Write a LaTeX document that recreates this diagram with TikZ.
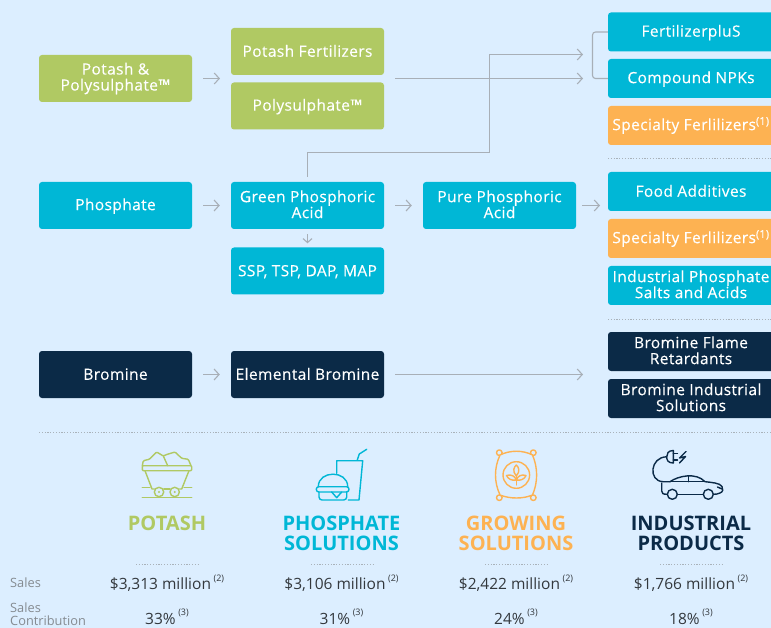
\documentclass[tikz,border=0pt]{standalone}
\usepackage{fontspec}
\setmainfont{Open Sans}
\newfontfamily\boxfont{Open Sans}[LetterSpace=2.5,FakeBold=0.25]
\usetikzlibrary{arrows.meta}
\definecolor{bgblue}{HTML}{DCEEFF}
\definecolor{potashgreen}{HTML}{B0C963}
\definecolor{phosteal}{HTML}{00B7D6}
\definecolor{groworange}{HTML}{FDB252}
\definecolor{indnavy}{HTML}{0B2A47}
\definecolor{flowgrey}{HTML}{A8AFB7}
\definecolor{dotgrey}{HTML}{A9B2BA}
\definecolor{valuegrey}{HTML}{33383D}
\definecolor{labelgrey}{HTML}{858B91}
\newcommand{\boxstrut}{\rule[-2.5pt]{0pt}{15.5pt}}
\tikzset{
    box/.style={rounded corners=3pt,text=white,align=center,inner sep=0pt,
      minimum height=47pt,minimum width=153pt,
      font=\boxfont\fontsize{15.5}{16}\selectfont,
      execute at begin node=\boxstrut,execute at end node=\boxstrut},
    sidebox/.style={box,minimum height=39pt,minimum width=166pt},
    flow/.style={flowgrey,line width=1.1pt,-{Straight Barb[length=5pt,width=11pt]}},
    plainflow/.style={flowgrey,line width=1.1pt},
    sepline/.style={dotgrey,line width=0.9pt,dash pattern=on 1.2pt off 1.6pt},
    title/.style={font=\fontsize{20}{20}\bfseries\selectfont,align=center,inner sep=0pt},
    value/.style={text=valuegrey,font=\fontsize{15.5}{16}\selectfont,inner sep=0pt},
    rowlabel/.style={text=labelgrey,anchor=west,align=left,inner sep=0pt,
      font=\fontsize{12.8}{13}\selectfont},
    icon/.style={line width=1.4pt,line join=round,line cap=round}
}
\newcommand{\noteref}[1]{\,\raisebox{0.55em}{\fontsize{9}{9}\selectfont(#1)}}
\begin{document}
\begin{tikzpicture}[x=1pt,y=-1pt]
    \useasboundingbox (0,0) rectangle (771,628);
    \clip (0,0) rectangle (771,628);
    \fill[bgblue] (0,0) rectangle (771,628);

    \node[box,fill=potashgreen] (potash) at (115.5,78.5) {Potash \&\\Polysulphate™};
    \node[box,fill=potashgreen] (potashfert) at (307.5,51.5) {Potash Fertilizers};
    \node[box,fill=potashgreen] (polysulphate) at (307.5,106) {Polysulphate™};

    \node[box,fill=phosteal] (phosphate) at (115.5,205.5) {Phosphate};
    \node[box,fill=phosteal] (greenacid) at (307.5,205.5) {Green Phosphoric\\Acid};
    \node[box,fill=phosteal] (ssp) at (307.5,271) {SSP, TSP, DAP, MAP};
    \node[box,fill=phosteal] (pureacid) at (499.5,205.5) {Pure Phosphoric\\Acid};

    \node[box,fill=indnavy] (bromine) at (115.5,374.5) {Bromine};
    \node[box,fill=indnavy] (elemental) at (307.5,374.5) {Elemental Bromine};

    \node[sidebox,fill=phosteal] (fertplus) at (691,32) {FertilizerpluS};
    \node[sidebox,fill=phosteal] (npk) at (691,78.5) {Compound NPKs};
    \node[sidebox,fill=groworange] (special1) at (691,125.5) {Specialty Ferlilizers\textsuperscript{(1)}};
    \node[sidebox,fill=phosteal] (food) at (691,191.5) {Food Additives};
    \node[sidebox,fill=groworange] (special2) at (691,238.5) {Specialty Ferlilizers\textsuperscript{(1)}};
    \node[sidebox,fill=phosteal] (salts) at (691,285.5) {Industrial Phosphate\\Salts and Acids};
    \node[sidebox,fill=indnavy] (flame) at (691,351.5) {Bromine Flame\\Retardants};
    \node[sidebox,fill=indnavy] (brindustrial) at (691,398.5) {Bromine Industrial\\Solutions};

    % connectors of the upper part
    \coordinate (potashout) at (220,78.5);
    \coordinate (fertin) at (395,78.5);
    \coordinate (npkin) at (583,78.5);
    \coordinate (plusin) at (583,54.5);
    \coordinate (pureout) at (600,205.5);
    \coordinate (bromin) at (583,374.5);
    \coordinate (elemout) at (395,374.5);

    \draw[flow,shorten <=11pt] (potash.east) -- (potashout);
    \draw[flow] (fertin) -- (npkin);
    \draw[plainflow,rounded corners=3pt] (fertplus.west) -| (592.5,78.5) -- (npk.west);
    \draw[flow] (greenacid.north) ++(0,-5) |- (489.5,152.5) |- (plusin);

    \draw[flow,shorten <=11pt,shorten >=11pt] (phosphate) -- (greenacid);
    \draw[flow,shorten <=11pt,shorten >=11pt] (greenacid) -- (pureacid);
    \draw[flow,shorten <=5pt,shorten >=4pt,-{Straight Barb[length=4pt,width=9pt]}] (greenacid) -- (ssp);
    \draw[flow,shorten <=6pt] (pureacid.east) -- (pureout);

    \draw[flow,shorten <=11pt,shorten >=11pt] (bromine) -- (elemental);
    \draw[flow] (elemout) -- (bromin);

    \draw[sepline] (608,158) -- (771,158);
    \draw[sepline] (608,319) -- (771,319);
    \draw[sepline] (39,432) -- (771,432);

    % cart
    \draw[icon,potashgreen,rounded corners=1pt] (142.3,465.7) rectangle (191.7,470.7);
    \draw[icon,potashgreen] (145,470.7) -- (152,489) -- (154.5,489);
    \draw[icon,potashgreen] (189,470.7) -- (181.7,489) -- (179.5,489);
    \draw[icon,potashgreen] (163.8,489) -- (170,489);
    \draw[icon,potashgreen] (159,492) circle (4.7);
    \draw[icon,potashgreen] (174.7,492) circle (4.7);
    \fill[potashgreen] (159,492) circle (1.2);
    \fill[potashgreen] (174.7,492) circle (1.2);
    \draw[icon,potashgreen] (142.3,497.7) -- (191.7,497.7);
    \draw[icon,potashgreen] (142.3,487.3) -- (150,487.3);
    \draw[icon,potashgreen] (184,487.3) -- (191.7,487.3);
    \draw[icon,potashgreen,rounded corners=1pt] (142.3,465.7) -- (143.3,460.7) -- (149.3,459.3) -- (156.7,452) -- (163.3,456)
      -- (166.7,454.5) -- (175,452) -- (181.7,458.3) -- (188.3,459.3) -- (191,465.7);
    \draw[icon,potashgreen] (163.3,456) -- (167.7,465.7);

    % burger and cup
    \draw[icon,phosteal] (336.7,473.3) -- (336.7,460.7) -- (362.7,460.7) -- (359,500) -- (348.3,500);
    \draw[icon,phosteal] (357.3,460) -- (359.3,454) -- (366.7,449.3);
    \draw[icon,phosteal] (318.3,486.7) .. controls (318.3,470) and (347.7,470) .. (347.7,486.7);
    \draw[icon,phosteal,rounded corners=2.5pt] (316.3,486.7) rectangle (349,492);
    \draw[icon,phosteal,rounded corners=3pt] (319,492) -- (319,500) -- (346.7,500) -- (346.7,492);
    \draw[icon,phosteal] (331.7,492) -- (336.7,497.7) -- (341.7,492);

    % bag
    \draw[icon,groworange] (499.3,452.7) circle (2.8);
    \draw[icon,groworange] (533.3,452.7) circle (2.8);
    \draw[icon,groworange] (499.3,497.7) circle (2.8);
    \draw[icon,groworange] (533.3,497.7) circle (2.8);
    \draw[icon,groworange,fill=bgblue] (500,455) .. controls (510,450) and (523,450) .. (532.5,455)
      .. controls (538,468) and (538,482) .. (532.5,495)
      .. controls (523,499) and (510,499) .. (500,495)
      .. controls (494,482) and (494,468) .. (500,455) -- cycle;
    \draw[icon,groworange] (516.3,475) circle (13.3);
    \draw[icon,groworange] (516.3,485) -- (516.3,476);
    \draw[icon,groworange] (516.3,476) .. controls (512,471) and (514,467) .. (516.3,465)
      .. controls (518.6,467) and (520.6,471) .. (516.3,476);
    \draw[icon,groworange] (516.3,480) .. controls (512,481) and (508,479) .. (506.5,475.5)
      .. controls (511,474) and (515,476) .. (516.3,480);
    \draw[icon,groworange] (516.3,480) .. controls (520.6,481) and (524.6,479) .. (526,475.5)
      .. controls (521.6,474) and (517.6,476) .. (516.3,480);

    % car and plug
    \draw[icon,indnavy] (673.3,450.5) .. controls (668,450.5) and (666.7,454) .. (666.7,456.8)
      .. controls (666.7,460) and (668,463) .. (673.3,463) -- cycle;
    \draw[icon,indnavy] (673.3,453.5) -- (677.5,453.5);
    \draw[icon,indnavy] (673.3,460) -- (677.5,460);
    \draw[icon,indnavy] (686,451.5) -- (679.5,458) -- (685.5,456.5) -- (679.5,463);
    \draw[icon,indnavy] (666.7,456.8) .. controls (650,457) and (648,481) .. (663,481.7) -- (670,481.7);
    \draw[icon,indnavy] (661.7,483) -- (661.7,491) .. controls (661.7,493.5) and (663,494.3) .. (667.3,494.3);
    \draw[icon,indnavy] (670,481.7) .. controls (678,476) and (696,472) .. (705,481.7)
      .. controls (712,482.5) and (720,483) .. (722,486.5)
      .. controls (723.5,489) and (723,492) .. (720,493)
      .. controls (718,494) and (716,494.3) .. (713.3,494.3);
    \draw[icon,indnavy] (670,481.7) -- (705,481.7);
    \draw[icon,indnavy] (688.3,476.2) -- (688.3,481.7);
    \draw[icon,indnavy] (717.5,487) -- (722,489);
    \draw[icon,indnavy] (677.3,494.3) -- (703.3,494.3);
    \draw[icon,indnavy] (672.3,494.3) circle (5);
    \draw[icon,indnavy] (708.3,494.3) circle (5);

    % segments
    \node[title,text=potashgreen] (potashtitle) at (167,523) {POTASH};
    \node[title,text=phosteal] (phostitle) at (341.5,533) {PHOSPHATE\\SOLUTIONS};
    \node[title,text=groworange] (growtitle) at (516,533) {GROWING\\SOLUTIONS};
    \node[title,text=indnavy] (indtitle) at (691,533) {INDUSTRIAL\\PRODUCTS};

    \draw[sepline] (136,564) -- (198,564);
    \draw[sepline] (311,564) -- (373,564);
    \draw[sepline] (485,564) -- (547,564);
    \draw[sepline] (660,564) -- (722,564);

    \node[rowlabel] (saleslabel) at (10,583) {Sales};
    \node[rowlabel] (contriblabel) at (10,614.5) {Sales\\Contribution};

    \node[value] (salespotash) at (167,583) {\$3,313 million\noteref{2}};
    \node[value] (salesphos) at (341.5,583) {\$3,106 million\noteref{2}};
    \node[value] (salesgrow) at (516,583) {\$2,422 million\noteref{2}};
    \node[value] (salesind) at (691,583) {\$1,766 million\noteref{2}};

    \node[value] (sharepotash) at (167,617) {33\%\noteref{3}};
    \node[value] (sharephos) at (341.5,617) {31\%\noteref{3}};
    \node[value] (sharegrow) at (516,617) {24\%\noteref{3}};
    \node[value] (shareind) at (691,617) {18\%\noteref{3}};
\end{tikzpicture}
\end{document}
